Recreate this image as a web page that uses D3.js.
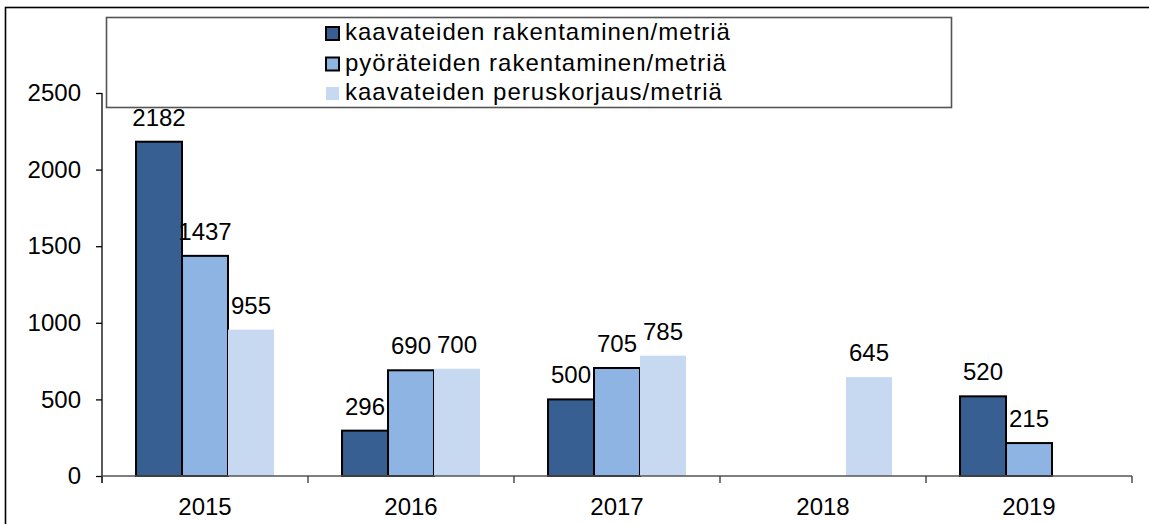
<!DOCTYPE html>
<html>
<head>
<meta charset="utf-8">
<script src="https://cdn.jsdelivr.net/npm/d3@7"></script>
<style>
  html, body { margin: 0; padding: 0; background: #fff; }
  svg { display: block; font-family: "Liberation Sans", Arial, sans-serif; }
</style>
</head>
<body>
<script>
var years = ['2015', '2016', '2017', '2018', '2019'];
var seriesNames = [
  'kaavateiden rakentaminen/metriä',
  'pyöräteiden rakentaminen/metriä',
  'kaavateiden peruskorjaus/metriä'
];
var kaavaRakent = [2182, 296, 500, null, 520];
var pyoraRakent = [1437, 690, 705, null, 215];
var kaavaPerus = [955, 700, 785, 645, null];
var yTicks = [0, 500, 1000, 1500, 2000, 2500];

var colors = ['#375f91', '#8eb4e3', '#c6d9f1'];
var strokes = ['#000', '#000', 'none'];

var width = 1149;
var height = 524;
var margin = {top: 93, right: 17, bottom: 48, left: 102};

var svg = d3.select('body').append('svg')
  .attr('width', width)
  .attr('height', height);

// outer frame (only top and left visible)
svg.append('rect')
  .attr('x', 5.5)
  .attr('y', 7.5)
  .attr('width', width + 20)
  .attr('height', height + 20)
  .attr('fill', 'none')
  .attr('stroke', '#000')
  .attr('stroke-width', 1.6);

var x0 = d3.scaleBand()
  .domain(years)
  .range([margin.left, width - margin.right])
  .paddingInner(0)
  .paddingOuter(0);

var x1 = d3.scaleBand()
  .domain([0, 1, 2])
  .range([0, x0.bandwidth()])
  .paddingInner(0)
  .paddingOuter(0.74);

var y = d3.scaleLinear()
  .domain([0, 2500])
  .range([height - margin.bottom, margin.top]);

var table = [kaavaRakent, pyoraRakent, kaavaPerus];

// y axis
var yAxis = svg.append('g')
  .attr('transform', 'translate(' + margin.left + ',0)')
  .call(d3.axisLeft(y).tickValues(yTicks).tickSize(6).tickPadding(15).tickFormat(d3.format('d')));
yAxis.select('.domain').attr('stroke', '#000').attr('stroke-width', 1.3)
  .attr('d', 'M0,' + (y(0) + 7) + 'V' + y(2500));
yAxis.selectAll('.tick line').attr('stroke', '#000').attr('stroke-width', 1.3);
yAxis.selectAll('text').attr('font-size', 24).attr('fill', '#000')
  .attr('font-family', '"Liberation Sans", Arial, sans-serif');

// bars
years.forEach(function(yr, i) {
  table.forEach(function(vals, s) {
    var v = vals[i];
    if (v === null) return;
    var bx = x0(yr) + x1(s);
    svg.append('rect')
      .attr('x', bx)
      .attr('y', y(v))
      .attr('width', x1.bandwidth())
      .attr('height', y(0) - y(v))
      .attr('fill', colors[s])
      .attr('stroke', strokes[s])
      .attr('stroke-width', 2);
    svg.append('text')
      .attr('x', bx + x1.bandwidth() / 2)
      .attr('y', y(v) - 16)
      .attr('text-anchor', 'middle')
      .attr('font-size', 24)
      .attr('fill', '#000')
      .text(v);
  });
});

// x axis
var xAxisLine = svg.append('g');
var xEdges = years.map(function(d) { return x0(d); }).concat([width - margin.right]);
xAxisLine.append('path')
  .attr('d', 'M' + margin.left + ',' + y(0) + 'H' + (width - margin.right))
  .attr('stroke', '#555')
  .attr('stroke-width', 1.5)
  .attr('fill', 'none');
xAxisLine.selectAll('line.tk')
  .data(xEdges)
  .enter().append('line')
  .attr('class', 'tk')
  .attr('x1', function(d) { return d; })
  .attr('x2', function(d) { return d; })
  .attr('y1', y(0))
  .attr('y2', y(0) + 7)
  .attr('stroke', '#333')
  .attr('stroke-width', 1.3);
xAxisLine.selectAll('text')
  .data(years)
  .enter().append('text')
  .attr('x', function(d) { return x0(d) + x0.bandwidth() / 2; })
  .attr('y', y(0) + 39)
  .attr('text-anchor', 'middle')
  .attr('font-size', 24)
  .attr('fill', '#000')
  .text(function(d) { return d; });

// legend
var legend = svg.append('g');
legend.append('rect')
  .attr('x', 106.5)
  .attr('y', 17.5)
  .attr('width', 845)
  .attr('height', 90)
  .attr('fill', '#fff')
  .attr('stroke', '#555')
  .attr('stroke-width', 1.6);

var legendRows = [40, 70.5, 100];
seriesNames.forEach(function(name, s) {
  legend.append('rect')
    .attr('x', 326)
    .attr('y', legendRows[s] - 13)
    .attr('width', 13)
    .attr('height', 13)
    .attr('fill', colors[s])
    .attr('stroke', strokes[s])
    .attr('stroke-width', 2);
  legend.append('text')
    .attr('x', 345)
    .attr('y', legendRows[s])
    .attr('font-size', 24)
    .attr('letter-spacing', '1px')
    .attr('fill', '#000')
    .text(name);
});
</script>
</body>
</html>
